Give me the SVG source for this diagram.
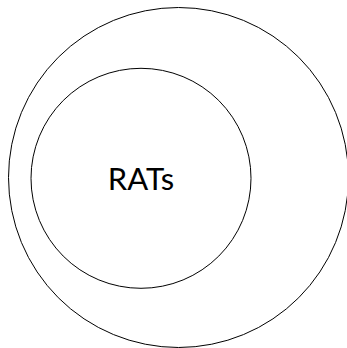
<svg xmlns="http://www.w3.org/2000/svg" width="347" height="348" viewBox="0 0 347 348">
<style>
.c{fill:none;stroke:#000;stroke-width:1}
.t{font-family:Lato,"Open Sans",sans-serif;font-size:31px;fill:#000;text-anchor:middle}
</style>
<rect width="347" height="348" fill="#fff"/>
<g id="outer"><ellipse class="c" cx="178.5" cy="177.5" rx="170" ry="170"/></g>
<g id="inner"><circle class="c" cx="141" cy="178.3" r="110"/>
<text class="t" x="141" y="190">RATs</text></g>
<g id="connectors"></g>
</svg>
